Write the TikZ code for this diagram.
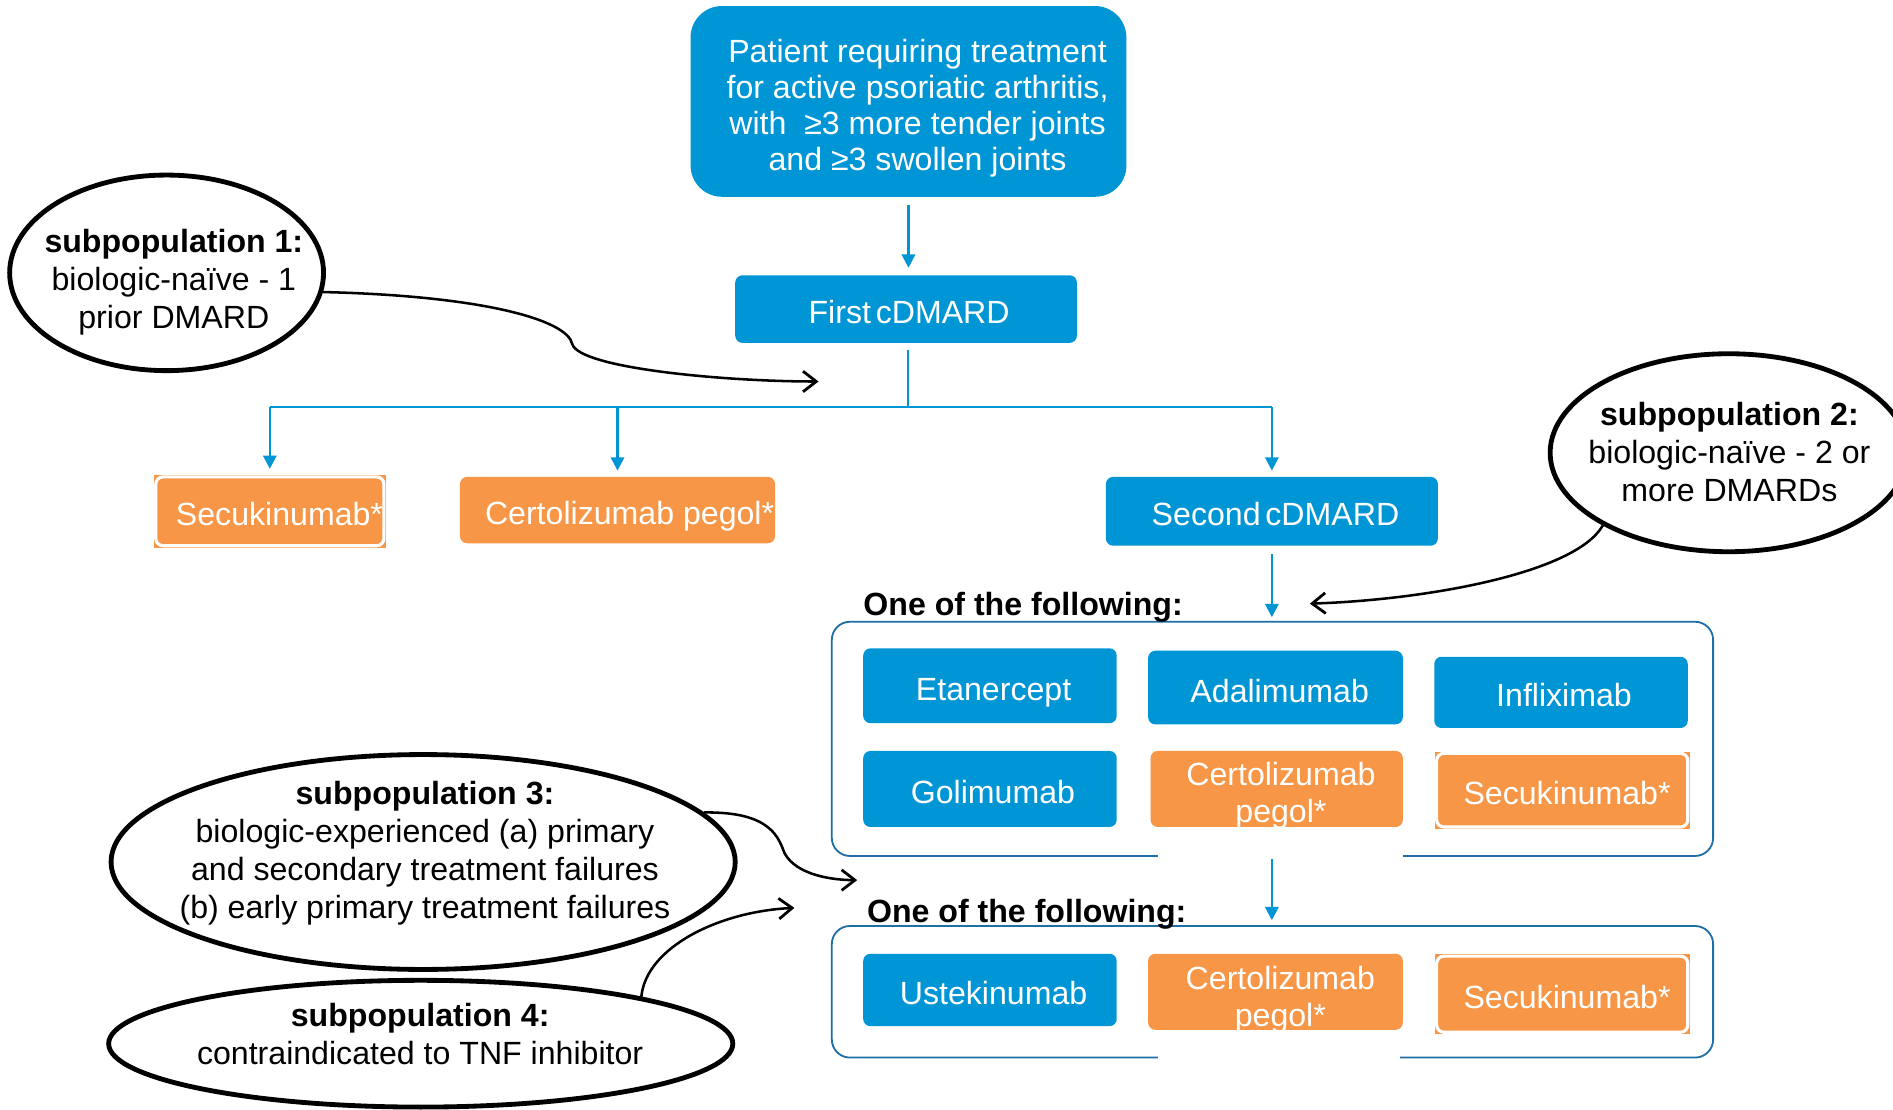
\documentclass[tikz,border=0pt]{standalone}
\usepackage{fontspec}
\setmainfont{Liberation Sans}
\usetikzlibrary{arrows.meta,shapes.geometric}
\definecolor{bbox}{HTML}{0096D6}
\definecolor{obox}{HTML}{F79646}
\definecolor{gline}{HTML}{1F6FA6}
\begin{document}
\begin{tikzpicture}[x=1pt,y=-1pt,
  bluebox/.style={fill=bbox, text=white, rounded corners=6pt, inner sep=0pt,
    font=\fontsize{26.6}{30}\selectfont, text height=26pt, text depth=2pt},
  orangebox/.style={bluebox, fill=obox},
  framedbox/.style={orangebox, draw=white, line width=2.6pt},
  backing/.style={fill=obox, inner sep=0pt},
  boxlabel/.style={text=white, align=center, inner sep=0pt, font=\fontsize{26.6}{30}\selectfont},
  grp/.style={draw=gline, line width=1.5pt, rounded corners=15pt, inner sep=0pt},
  bline/.style={draw=bbox, line width=2pt},
  barrow/.style={bline, -{Triangle[length=11pt,width=11pt]}},
  karrow/.style={draw=black, line width=2.1pt, -{Straight Barb[length=11pt,width=17pt,line width=2.3pt]}},
  oval/.style={ellipse, draw=black, line width=4pt, inner sep=0pt},
  ovaltext/.style={align=center, inner sep=0pt, font=\fontsize{26.6}{31.5}\selectfont},
  head/.style={anchor=base west, inner sep=0pt, font=\fontsize{26.6}{30}\selectfont\bfseries}
]
\useasboundingbox (0,0) rectangle (1568,919);
\clip (0,0) rectangle (1568,919);
\fill[white] (0,0) rectangle (1568,919);

% top box
\node[bluebox, minimum width=361pt, minimum height=158pt, rounded corners=26pt] (top) at (752.5,84) {};
\node[boxlabel] (toptext) at (760,89.7) {Patient requiring treatment\\for active psoriatic arthritis,\\with~ ≥3 more tender joints\\and ≥3 swollen joints};

\node[bluebox, minimum width=283pt, minimum height=56pt] (first) at (750.5,256) {\hspace*{5pt}First\hspace{0.15em}cDMARD};

\node[backing, minimum width=192pt, minimum height=60pt] (secu1b) at (223.5,423.5) {};
\node[framedbox, minimum width=189pt, minimum height=57pt] (secu1) at (223.5,423.5) {\hspace*{16pt}Secukinumab*};
\node[orangebox, minimum width=261pt, minimum height=55pt] (cert1) at (511.5,422.5) {\hspace*{20pt}Certolizumab pegol*};
\node[bluebox, minimum width=275pt, minimum height=57pt] (second) at (1053.5,423.5) {\hspace*{6pt}Second\hspace{0.15em}cDMARD};

% groups
\node[grp, minimum width=730pt, minimum height=194pt] (g1) at (1054,612) {};
\node[grp, minimum width=730pt, minimum height=109pt] (g2) at (1054,821.5) {};
\draw[white, line width=4pt] (959,709) -- (1162,709);
\draw[white, line width=4pt] (959,876) -- (1160,876);

\node[head] (h1) at (715,509.8) {One of the following:};
\node[head] (h2) at (718,763.8) {One of the following:};

\node[bluebox, minimum width=210pt, minimum height=62pt] (eta) at (820,568) {\hspace*{6pt}Etanercept};
\node[bluebox, minimum width=211pt, minimum height=61pt] (ada) at (1056.5,569.5) {\hspace*{7pt}Adalimumab};
\node[bluebox, minimum width=210pt, minimum height=59pt] (inf) at (1293,573.5) {\hspace*{5pt}Infliximab};
\node[bluebox, minimum width=210pt, minimum height=63pt] (goli) at (820,653.5) {\hspace*{5pt}Golimumab};
\node[orangebox, minimum width=209pt, minimum height=63pt] (cert2) at (1057.5,653.5) {};
\node[boxlabel] (cert2t) at (1061,659) {Certolizumab\\pegol*};
\node[backing, minimum width=211pt, minimum height=64pt] (secu2b) at (1294,654.5) {};
\node[framedbox, minimum width=208pt, minimum height=61pt] (secu2) at (1294,654.5) {\hspace*{8pt}Secukinumab*};

\node[bluebox, minimum width=210pt, minimum height=60pt] (uste) at (820,820) {\hspace*{6pt}Ustekinumab};
\node[orangebox, minimum width=211pt, minimum height=63pt] (cert3) at (1056.5,821.5) {};
\node[boxlabel] (cert3t) at (1060.5,828) {Certolizumab\\pegol*};
\node[backing, minimum width=211pt, minimum height=66pt] (secu3b) at (1294,823.5) {};
\node[framedbox, minimum width=208pt, minimum height=63pt] (secu3) at (1294,823.5) {\hspace*{8pt}Secukinumab*};

% blue connectors
\draw[barrow, shorten <=7pt, shorten >=6pt] (top.south) -- (top.south |- first.north);
\coordinate (split) at (752,337);
\draw[bline, shorten <=6pt] (first.south -| split) -- (split);
\draw[bline] (split -| secu1.north) -- (split -| second.north);
\draw[barrow, shorten >=5pt] (split -| secu1.north) -- (secu1b.north);
\draw[barrow, shorten >=5pt] (split -| cert1.north) -- (cert1.north);
\draw[barrow, shorten >=5pt] (split -| second.north) -- (second.north);
\draw[barrow, shorten <=7pt, shorten >=3pt] (second.south) -- (second.south |- g1.north);
\draw[barrow, shorten <=2pt, shorten >=4pt] (second.south |- g1.south) -- (second.south |- g2.north);

% ellipses
\node[oval, minimum width=260pt, minimum height=162pt] (e1) at (138,226) {};
\node[ovaltext] (e1t) at (144,234) {{\bfseries subpopulation 1:}\\biologic-naïve - 1\\prior DMARD};
\node[oval, minimum width=296pt, minimum height=164pt] (e2) at (1432,375) {};
\node[ovaltext] (e2t) at (1432.5,374.4) {{\bfseries subpopulation 2:}\\biologic-naïve - 2 or\\more DMARDs};
\node[oval, minimum width=517pt, minimum height=178pt] (e3) at (350.5,714) {};
\node[ovaltext] (e3t) at (352,707) {{\bfseries subpopulation 3:}\\biologic-experienced (a) primary\\and secondary treatment failures\\(b) early primary treatment failures};
\node[oval, minimum width=517pt, minimum height=105pt] (e4) at (348.5,864.5) {};
\node[ovaltext] (e4t) at (348,856.4) {{\bfseries subpopulation 4:}\\contraindicated to TNF inhibitor};

% black connectors
\coordinate (c1) at (678,316);
\coordinate (c2) at (1085,500);
\coordinate (c3) at (710,729);
\coordinate (c4) at (658,752);
\draw[karrow] (e1.-7) .. controls (400,245) and (470,265) .. (474,285) .. controls (480,305) and (600,316) .. (c1);
\draw[karrow] (e2.210) .. controls (1305,475) and (1180,497) .. (c2);
\draw[karrow] (e3.10) .. controls (640,672) and (645,695) .. (650,707) .. controls (660,725) and (690,729) .. (c3);
\draw[karrow] (e4.12) .. controls (535,785) and (595,755) .. (c4);
\end{tikzpicture}
\end{document}
